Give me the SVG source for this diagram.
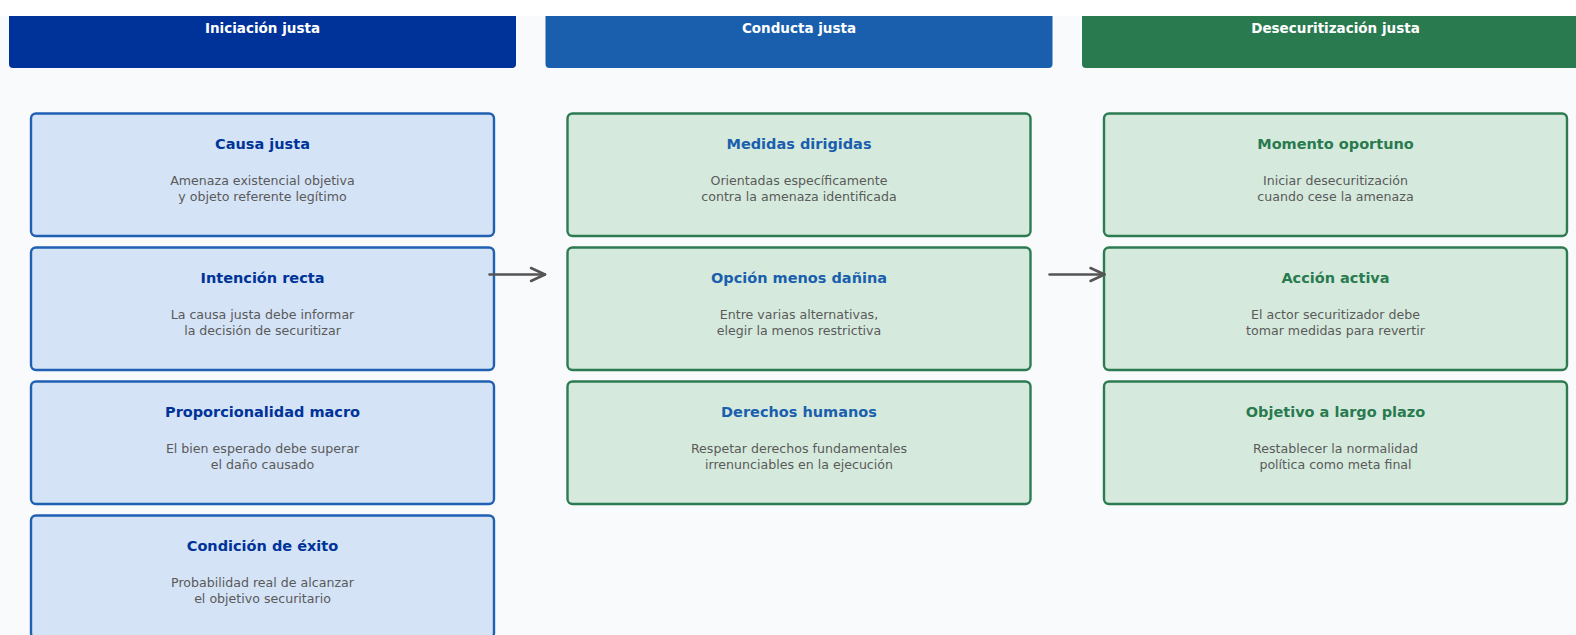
<svg xmlns="http://www.w3.org/2000/svg" width="1576" height="635" viewBox="0 0 1576 635">
<defs>
<style>
.hdr{font-family:"DejaVu Sans","Liberation Sans",sans-serif;font-weight:bold;font-size:13.5px;fill:#ffffff;text-anchor:middle}
.ttl{font-family:"DejaVu Sans","Liberation Sans",sans-serif;font-weight:bold;font-size:14.5px;text-anchor:middle}
.dsc{font-family:"DejaVu Sans","Liberation Sans",sans-serif;font-size:12.6px;fill:#5a5a5a;text-anchor:middle}
.b1{fill:#d4e3f6;stroke:#1f60b2;stroke-width:2.4}
.b2{fill:#d5eadd;stroke:#2c7b51;stroke-width:2.4}
.t1{fill:#003399}
.t2{fill:#1a5fad}
.t3{fill:#2a7a50}
.conn{stroke:#555555;stroke-width:2.5;fill:none;stroke-linecap:round;stroke-linejoin:round}
</style>
</defs>
<rect x="0" y="0" width="1576" height="635" fill="#f8fafc"/>
<g id="header1"><rect x="9" y="-20" width="507" height="88" rx="4" fill="#003399"/><text class="hdr" x="262.5" y="32.5">Iniciación justa</text></g>
<g id="header2"><rect x="545.5" y="-20" width="507" height="88" rx="4" fill="#1a5fad"/><text class="hdr" x="799" y="32.5">Conducta justa</text></g>
<g id="header3"><rect x="1082" y="-20" width="507" height="88" rx="4" fill="#2a7a50"/><text class="hdr" x="1335.5" y="32.5">Desecuritización justa</text></g>
<rect x="0" y="0" width="1576" height="16" fill="#ffffff"/>

<g id="causa-justa"><rect class="b1" x="31" y="113.5" width="463" height="122.5" rx="5"/><text class="ttl t1" x="262.5" y="149.3">Causa justa</text><text class="dsc" x="262.5" y="184.7">Amenaza existencial objetiva</text><text class="dsc" x="262.5" y="200.7">y objeto referente legítimo</text></g>
<g id="intencion-recta"><rect class="b1" x="31" y="247.5" width="463" height="122.5" rx="5"/><text class="ttl t1" x="262.5" y="283.3">Intención recta</text><text class="dsc" x="262.5" y="318.7">La causa justa debe informar</text><text class="dsc" x="262.5" y="334.7">la decisión de securitizar</text></g>
<g id="proporcionalidad-macro"><rect class="b1" x="31" y="381.5" width="463" height="122.5" rx="5"/><text class="ttl t1" x="262.5" y="417.3">Proporcionalidad macro</text><text class="dsc" x="262.5" y="452.7">El bien esperado debe superar</text><text class="dsc" x="262.5" y="468.7">el daño causado</text></g>
<g id="condicion-exito"><rect class="b1" x="31" y="515.5" width="463" height="122.5" rx="5"/><text class="ttl t1" x="262.5" y="551.3">Condición de éxito</text><text class="dsc" x="262.5" y="586.7">Probabilidad real de alcanzar</text><text class="dsc" x="262.5" y="602.7">el objetivo securitario</text></g>

<g id="medidas-dirigidas"><rect class="b2" x="567.5" y="113.5" width="463" height="122.5" rx="5"/><text class="ttl t2" x="799" y="149.3">Medidas dirigidas</text><text class="dsc" x="799" y="184.7">Orientadas específicamente</text><text class="dsc" x="799" y="200.7">contra la amenaza identificada</text></g>
<g id="opcion-menos-danina"><rect class="b2" x="567.5" y="247.5" width="463" height="122.5" rx="5"/><text class="ttl t2" x="799" y="283.3">Opción menos dañina</text><text class="dsc" x="799" y="318.7">Entre varias alternativas,</text><text class="dsc" x="799" y="334.7">elegir la menos restrictiva</text></g>
<g id="derechos-humanos"><rect class="b2" x="567.5" y="381.5" width="463" height="122.5" rx="5"/><text class="ttl t2" x="799" y="417.3">Derechos humanos</text><text class="dsc" x="799" y="452.7">Respetar derechos fundamentales</text><text class="dsc" x="799" y="468.7">irrenunciables en la ejecución</text></g>

<g id="momento-oportuno"><rect class="b2" x="1104" y="113.5" width="463" height="122.5" rx="5"/><text class="ttl t3" x="1335.5" y="149.3">Momento oportuno</text><text class="dsc" x="1335.5" y="184.7">Iniciar desecuritización</text><text class="dsc" x="1335.5" y="200.7">cuando cese la amenaza</text></g>
<g id="accion-activa"><rect class="b2" x="1104" y="247.5" width="463" height="122.5" rx="5"/><text class="ttl t3" x="1335.5" y="283.3">Acción activa</text><text class="dsc" x="1335.5" y="318.7">El actor securitizador debe</text><text class="dsc" x="1335.5" y="334.7">tomar medidas para revertir</text></g>
<g id="objetivo-largo-plazo"><rect class="b2" x="1104" y="381.5" width="463" height="122.5" rx="5"/><text class="ttl t3" x="1335.5" y="417.3">Objetivo a largo plazo</text><text class="dsc" x="1335.5" y="452.7">Restablecer la normalidad</text><text class="dsc" x="1335.5" y="468.7">política como meta final</text></g>

<g id="connectors">
<path class="conn" d="M489.5 274.5 H545"/><path class="conn" d="M531 268 L545 274.5 L531 281"/>
<path class="conn" d="M1049.5 274.5 H1104.5"/><path class="conn" d="M1090.5 268 L1104.5 274.5 L1090.5 281"/>
</g>
</svg>
